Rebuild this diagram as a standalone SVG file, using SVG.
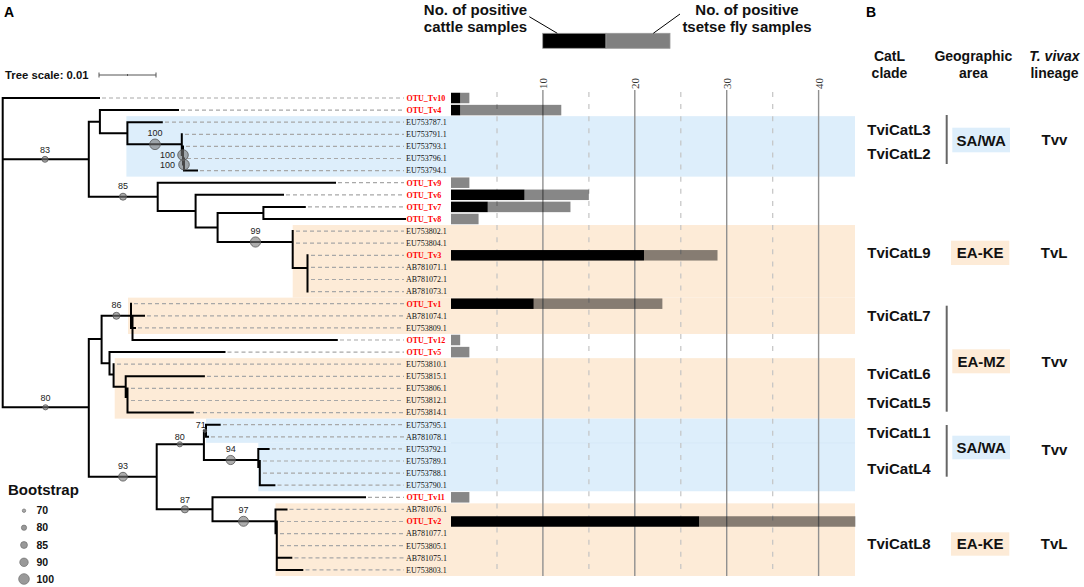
<svg xmlns="http://www.w3.org/2000/svg" width="1084" height="587" viewBox="0 0 1084 587">
<style>
.sans{font-family:"Liberation Sans",Arial,sans-serif}
.serif{font-family:"Liberation Serif","Times New Roman",serif}
.br{stroke:#000;stroke-width:2;fill:none;stroke-linecap:square}
.ld{stroke:#a8a8a8;stroke-width:1.2;stroke-dasharray:4 3;fill:none}
.lbl{font-family:"Liberation Serif","Times New Roman",serif;font-size:8px;fill:#111}
.otu{font-family:"Liberation Serif","Times New Roman",serif;font-size:8px;fill:#ff0000;font-weight:bold}
.bc{fill:#777;fill-opacity:0.6;stroke:#555;stroke-width:0.8}
.bt{font-family:"Liberation Sans",Arial,sans-serif;font-size:9px;fill:#222;text-anchor:middle}
.blue{fill:#ddeefb}
.peach{fill:#fdebd7}
.gs{stroke:#909090;stroke-width:1.4}
.gd{stroke:#c4c4c4;stroke-width:1.2;stroke-dasharray:5 7.1}
.cat{fill:#000}
.tse{fill:#000;fill-opacity:0.47}
.ax{font-family:"Liberation Serif","Times New Roman",serif;font-size:11px;fill:#333;text-anchor:middle}
.bh{font-family:"Liberation Sans",Arial,sans-serif;font-size:14px;font-weight:bold;fill:#111;text-anchor:middle}
.bl{font-family:"Liberation Sans",Arial,sans-serif;font-size:15px;font-weight:bold;fill:#111}
.bm{font-family:"Liberation Sans",Arial,sans-serif;font-size:15px;font-weight:bold;fill:#111;text-anchor:middle}
.vb{stroke:#666;stroke-width:2}
</style>

<!-- panel labels -->
<text class="sans" x="4" y="17" font-size="14" font-weight="bold">A</text>
<text class="sans" x="866" y="17" font-size="14" font-weight="bold">B</text>

<!-- tree scale -->
<g id="tree-scale">
<text class="sans" x="5" y="79" font-size="11.3" font-weight="bold" fill="#111">Tree scale: 0.01</text>
<path d="M99,75 H156 M99,72.5 V77.5 M156,72.5 V77.5 M127.5,74 V76" stroke="#555" stroke-width="1" fill="none"/>
</g>

<!-- bar legend -->
<g id="bar-legend">
<text class="sans" x="475.5" y="14.5" font-size="15" font-weight="bold" text-anchor="middle" fill="#111">No. of positive</text>
<text class="sans" x="475.5" y="31.5" font-size="15" font-weight="bold" text-anchor="middle" fill="#111">cattle samples</text>
<text class="sans" x="747" y="14.5" font-size="15" font-weight="bold" text-anchor="middle" fill="#111">No. of positive</text>
<text class="sans" x="747" y="31.5" font-size="15" font-weight="bold" text-anchor="middle" fill="#111">tsetse fly samples</text>
<rect x="542.7" y="33.3" width="63.3" height="15" fill="#000" stroke="#999" stroke-width="0.8"/>
<rect x="606" y="33.3" width="64" height="15" fill="#808080" stroke="#999" stroke-width="0.8"/>
<path d="M529.3,16.7 L557.3,33.3 M680,14 L653.3,33.3" stroke="#000" stroke-width="1" fill="none"/>
</g>

<!-- background bands -->
<g id="bands">
<rect class="blue" x="126.4" y="116.15" width="728.6" height="60.5"/>
<rect class="peach" x="292.7" y="225.05" width="562.3" height="72.6"/>
<rect class="peach" x="128" y="297.65" width="727" height="36.3"/>
<rect class="peach" x="114.7" y="358.15" width="740.3" height="60.5"/>
<rect class="blue" x="206" y="418.65" width="649" height="24.2"/>
<rect class="blue" x="258.3" y="442.85" width="596.7" height="48.4"/>
<line x1="451" y1="442.85" x2="855" y2="442.85" stroke="#cfe3f3" stroke-width="0.6"/>
<rect class="peach" x="275.5" y="503.35" width="579.5" height="72.6"/>
</g>

<!-- axis grid -->
<g id="axis">
<line class="gd" x1="497" y1="92" x2="497" y2="576"/>
<line class="gd" x1="588.9" y1="92" x2="588.9" y2="576"/>
<line class="gd" x1="680.8" y1="92" x2="680.8" y2="576"/>
<line class="gd" x1="772.7" y1="92" x2="772.7" y2="576"/>
<line class="gs" x1="542.9" y1="90" x2="542.9" y2="576"/>
<line class="gs" x1="634.8" y1="90" x2="634.8" y2="576"/>
<line class="gs" x1="726.7" y1="90" x2="726.7" y2="576"/>
<line class="gs" x1="818.6" y1="90" x2="818.6" y2="576"/>
<text class="ax" transform="translate(546.8,83.5) rotate(-90)">10</text>
<text class="ax" transform="translate(638.7,83.5) rotate(-90)">20</text>
<text class="ax" transform="translate(730.6,83.5) rotate(-90)">30</text>
<text class="ax" transform="translate(822.5,83.5) rotate(-90)">40</text>
</g>

<!-- connectors: tree branches and leader lines -->
<g id="connectors">
<path class="ld" d="M102,98H404 M181,110.1H404 M165,122.2H404 M185,134.3H404 M186,146.4H404 M187,158.5H404 M200,170.6H404 M338,182.7H404 M286,194.8H404 M308,206.9H404 M296,231.1H404 M296,243.2H404 M311,255.3H404 M311,267.4H404 M311,279.5H404 M311,291.6H404 M134,303.7H404 M147,315.8H404 M138,327.9H404 M340,340H404 M227.5,352.1H404 M117,364.2H404 M207,376.3H404 M131,388.4H404 M131,400.5H404 M196,412.6H404 M223,424.7H404 M211,436.8H404 M272,448.9H404 M263,461H404 M263,473.1H404 M277.5,485.2H404 M368,497.3H404 M289.5,509.4H404 M280,521.5H404 M280,533.6H404 M280,545.7H404 M294.5,557.8H404 M305.5,569.9H404"/>
<path class="br" d="
M2.7,98 V407.3 M2.7,98 H99 M2.7,159.3 H88.8 M2.7,407.3 H88.8
M88.8,121.7 V196.7 M88.8,121.7 H99.9 M88.8,196.7 H157.7
M99.9,110.1 V133.3 M99.9,110.1 H178 M99.9,133.3 H127.4
M127.4,122.2 V144.3 M127.4,122.2 H161.8 M127.4,144.3 H181.8
M181.8,134.3 V155 M181.8,155 H183
M183,146.4 V164.6 M183,164.6 H184
M184,158.5 V170.6 M184,170.6 H197
M157.7,182.7 V211 M157.7,182.7 H335 M157.7,211 H195.6
M195.6,194.8 V227.5 M195.6,194.8 H283 M195.6,227.5 H217.6
M217.6,213 V242 M217.6,213 H263.4 M217.6,242 H292.7
M263.4,206.9 V219 M263.4,206.9 H304.8 M263.4,219 H405
M292.7,231.1 V268 M292.7,268 H307.5
M307.5,255.3 V291.6
M88.8,339 V476.7 M88.8,339 H101.6 M88.8,476.7 H156.7
M101.6,315.8 V363.3 M101.6,315.8 H131 M101.6,363.3 H109.5
M131,303.7 V327.9 M131,327.9 H132.5
M132.5,315.8 V340 M132.5,315.8 H144 M132.5,327.9 H135 M132.5,340 H336.8
M109.5,352.1 V374.5 M109.5,352.1 H224.5 M109.5,374.5 H113.6
M113.6,364.2 V386.7 M113.6,386.7 H125.7
M125.7,376.3 V397 M125.7,376.3 H203.9 M125.7,397 H127.5
M127.5,388.4 V412.6 M127.5,412.6 H192.8
M156.7,444.3 V509.3 M156.7,444.3 H203.9 M156.7,509.3 H212.5
M203.9,430.7 V460 M203.9,430.7 H206 M203.9,460 H258.3
M206,424.7 V436.8 M206,424.7 H219.7 M206,436.8 H208
M258.3,448.9 V467 M258.3,448.9 H268.6 M258.3,467 H259.8
M259.8,461 V485.2 M259.8,485.2 H274.4
M212.5,497.3 V521.3 M212.5,497.3 H365 M212.5,521.3 H275.5
M275.5,509.4 V533.2 M275.5,509.4 H286.5 M275.5,533.2 H276.8
M276.8,521.5 V569.9 M276.8,557.8 H291.3 M276.8,569.9 H302.3"/>
</g>

<!-- bootstrap support -->
<g id="bootstrap">
<circle class="bc" cx="45" cy="159.3" r="3"/><text class="bt" x="45" y="153.2">83</text>
<circle class="bc" cx="155" cy="144.3" r="5.3"/><text class="bt" x="155" y="136.4">100</text>
<circle class="bc" cx="183" cy="155" r="5.3"/><text class="bt" x="167.5" y="158.2">100</text>
<circle class="bc" cx="184" cy="164.6" r="5.3"/><text class="bt" x="167.5" y="167.8">100</text>
<circle class="bc" cx="123" cy="196.7" r="3.5"/><text class="bt" x="123" y="189.2">85</text>
<circle class="bc" cx="255.5" cy="242" r="5.1"/><text class="bt" x="255.5" y="234.2">99</text>
<circle class="bc" cx="45.5" cy="407.3" r="2.6"/><text class="bt" x="45.5" y="401.2">80</text>
<circle class="bc" cx="116.4" cy="315.8" r="3.5"/><text class="bt" x="116.4" y="307.9">86</text>
<circle class="bc" cx="205" cy="430.7" r="1.7"/><text class="bt" x="200.8" y="427.5">71</text>
<circle class="bc" cx="179.8" cy="444.3" r="2.6"/><text class="bt" x="179.8" y="439.5">80</text>
<circle class="bc" cx="230.7" cy="460" r="4.6"/><text class="bt" x="230.7" y="451.5">94</text>
<circle class="bc" cx="123" cy="476.7" r="4.4"/><text class="bt" x="123" y="469">93</text>
<circle class="bc" cx="184.9" cy="509.3" r="3.6"/><text class="bt" x="184.9" y="503.2">87</text>
<circle class="bc" cx="243.5" cy="521.3" r="5"/><text class="bt" x="243.5" y="513.2">97</text>
</g>

<!-- leaves -->
<g id="leaf-OTU_Tv10"><text class="otu" x="406.5" y="100.8">OTU_Tv10</text><rect class="cat" x="451" y="92.75" width="9.19" height="10.5"/><rect class="tse" x="460.19" y="92.75" width="9.19" height="10.5"/></g>
<g id="leaf-OTU_Tv4"><text class="otu" x="406.5" y="112.9">OTU_Tv4</text><rect class="cat" x="451" y="104.85" width="9.19" height="10.5"/><rect class="tse" x="460.19" y="104.85" width="101.09" height="10.5"/></g>
<g id="leaf-EU753787"><text class="lbl" x="406" y="125">EU753787.1</text></g>
<g id="leaf-EU753791"><text class="lbl" x="406" y="137.1">EU753791.1</text></g>
<g id="leaf-EU753793"><text class="lbl" x="406" y="149.2">EU753793.1</text></g>
<g id="leaf-EU753796"><text class="lbl" x="406" y="161.3">EU753796.1</text></g>
<g id="leaf-EU753794"><text class="lbl" x="406" y="173.4">EU753794.1</text></g>
<g id="leaf-OTU_Tv9"><text class="otu" x="406.5" y="185.5">OTU_Tv9</text><rect class="tse" x="451" y="177.45" width="18.38" height="10.5"/></g>
<g id="leaf-OTU_Tv6"><text class="otu" x="406.5" y="197.6">OTU_Tv6</text><rect class="cat" x="451" y="189.55" width="73.52" height="10.5"/><rect class="tse" x="524.52" y="189.55" width="64.33" height="10.5"/></g>
<g id="leaf-OTU_Tv7"><text class="otu" x="406.5" y="209.7">OTU_Tv7</text><rect class="cat" x="451" y="201.65" width="36.76" height="10.5"/><rect class="tse" x="487.76" y="201.65" width="82.71" height="10.5"/></g>
<g id="leaf-OTU_Tv8"><text class="otu" x="406.5" y="221.8">OTU_Tv8</text><rect class="tse" x="451" y="213.75" width="27.57" height="10.5"/></g>
<g id="leaf-EU753802"><text class="lbl" x="406" y="233.9">EU753802.1</text></g>
<g id="leaf-EU753804"><text class="lbl" x="406" y="246">EU753804.1</text></g>
<g id="leaf-OTU_Tv3"><text class="otu" x="406.5" y="258.1">OTU_Tv3</text><rect class="cat" x="451" y="250.05" width="192.99" height="10.5"/><rect class="tse" x="643.99" y="250.05" width="73.52" height="10.5"/></g>
<g id="leaf-AB781071"><text class="lbl" x="406" y="270.2">AB781071.1</text></g>
<g id="leaf-AB781072"><text class="lbl" x="406" y="282.3">AB781072.1</text></g>
<g id="leaf-AB781073"><text class="lbl" x="406" y="294.4">AB781073.1</text></g>
<g id="leaf-OTU_Tv1"><text class="otu" x="406.5" y="306.5">OTU_Tv1</text><rect class="cat" x="451" y="298.45" width="82.71" height="10.5"/><rect class="tse" x="533.71" y="298.45" width="128.66" height="10.5"/></g>
<g id="leaf-AB781074"><text class="lbl" x="406" y="318.6">AB781074.1</text></g>
<g id="leaf-EU753809"><text class="lbl" x="406" y="330.7">EU753809.1</text></g>
<g id="leaf-OTU_Tv12"><text class="otu" x="406.5" y="342.8">OTU_Tv12</text><rect class="tse" x="451" y="334.75" width="9.19" height="10.5"/></g>
<g id="leaf-OTU_Tv5"><text class="otu" x="406.5" y="354.9">OTU_Tv5</text><rect class="tse" x="451" y="346.85" width="18.38" height="10.5"/></g>
<g id="leaf-EU753810"><text class="lbl" x="406" y="367">EU753810.1</text></g>
<g id="leaf-EU753815"><text class="lbl" x="406" y="379.1">EU753815.1</text></g>
<g id="leaf-EU753806"><text class="lbl" x="406" y="391.2">EU753806.1</text></g>
<g id="leaf-EU753812"><text class="lbl" x="406" y="403.3">EU753812.1</text></g>
<g id="leaf-EU753814"><text class="lbl" x="406" y="415.4">EU753814.1</text></g>
<g id="leaf-EU753795"><text class="lbl" x="406" y="427.5">EU753795.1</text></g>
<g id="leaf-AB781078"><text class="lbl" x="406" y="439.6">AB781078.1</text></g>
<g id="leaf-EU753792"><text class="lbl" x="406" y="451.7">EU753792.1</text></g>
<g id="leaf-EU753789"><text class="lbl" x="406" y="463.8">EU753789.1</text></g>
<g id="leaf-EU753788"><text class="lbl" x="406" y="475.9">EU753788.1</text></g>
<g id="leaf-EU753790"><text class="lbl" x="406" y="488">EU753790.1</text></g>
<g id="leaf-OTU_Tv11"><text class="otu" x="406.5" y="500.1">OTU_Tv11</text><rect class="tse" x="451" y="492.05" width="18.38" height="10.5"/></g>
<g id="leaf-AB781076"><text class="lbl" x="406" y="512.2">AB781076.1</text></g>
<g id="leaf-OTU_Tv2"><text class="otu" x="406.5" y="524.3">OTU_Tv2</text><rect class="cat" x="451" y="516.25" width="248.13" height="10.5"/><rect class="tse" x="699.13" y="516.25" width="156.23" height="10.5"/></g>
<g id="leaf-AB781077"><text class="lbl" x="406" y="536.4">AB781077.1</text></g>
<g id="leaf-EU753805"><text class="lbl" x="406" y="548.5">EU753805.1</text></g>
<g id="leaf-AB781075"><text class="lbl" x="406" y="560.6">AB781075.1</text></g>
<g id="leaf-EU753803"><text class="lbl" x="406" y="572.7">EU753803.1</text></g>

<!-- bootstrap legend -->
<g id="bootstrap-legend">
<text class="sans" x="8" y="494.5" font-size="15" font-weight="bold" fill="#111">Bootstrap</text>
<circle cx="24" cy="510.7" r="1.7" fill="#aaa" stroke="#777" stroke-width="0.8"/>
<circle cx="24" cy="527.7" r="2.6" fill="#999" stroke="#777" stroke-width="0.8"/>
<circle cx="24" cy="545" r="3.4" fill="#999" stroke="#777" stroke-width="0.8"/>
<circle cx="24" cy="562.3" r="4.2" fill="#999" stroke="#777" stroke-width="0.8"/>
<circle cx="24" cy="579" r="5.3" fill="#999" stroke="#777" stroke-width="0.8"/>
<text class="sans" x="36.5" y="514.3" font-size="10.5" font-weight="bold" fill="#111">70</text>
<text class="sans" x="36.5" y="531.3" font-size="10.5" font-weight="bold" fill="#111">80</text>
<text class="sans" x="36.5" y="548.6" font-size="10.5" font-weight="bold" fill="#111">85</text>
<text class="sans" x="36.5" y="565.9" font-size="10.5" font-weight="bold" fill="#111">90</text>
<text class="sans" x="36.5" y="582.6" font-size="10.5" font-weight="bold" fill="#111">100</text>
</g>

<!-- panel B -->
<g id="panelB-header">
<text class="bh" x="889.5" y="61">CatL</text>
<text class="bh" x="889.5" y="77.5">clade</text>
<text class="bh" x="973.3" y="61">Geographic</text>
<text class="bh" x="973.3" y="77.5">area</text>
<text class="bh" x="1054.5" y="61" font-style="italic">T. vivax</text>
<text class="bh" x="1054.5" y="77.5">lineage</text>
</g>
<g id="group-SAWA-1">
<text class="bl" x="867.3" y="135.3">TviCatL3</text>
<text class="bl" x="867.3" y="159.3">TviCatL2</text>
<line class="vb" x1="946.7" y1="115" x2="946.7" y2="164"/>
<rect class="blue" x="952.3" y="127.7" width="57.7" height="24.6"/>
<text class="bm" x="981.2" y="145.5">SA/WA</text>
<text class="bm" x="1054.5" y="145.3">Tvv</text>
</g>
<g id="group-EAKE-1">
<text class="bl" x="867.3" y="258">TviCatL9</text>
<rect class="peach" x="951" y="240.7" width="58.3" height="24.3"/>
<text class="bm" x="980.2" y="258.2">EA-KE</text>
<text class="bm" x="1054.2" y="258">TvL</text>
</g>
<g id="group-EAMZ">
<text class="bl" x="867.3" y="321.3">TviCatL7</text>
<text class="bl" x="867.3" y="378.8">TviCatL6</text>
<text class="bl" x="867.3" y="408.2">TviCatL5</text>
<line class="vb" x1="946.7" y1="305.7" x2="946.7" y2="411.7"/>
<rect class="peach" x="952.3" y="349.3" width="57.7" height="24"/>
<text class="bm" x="981.2" y="366.8">EA-MZ</text>
<text class="bm" x="1054.5" y="367">Tvv</text>
</g>
<g id="group-SAWA-2">
<text class="bl" x="867.3" y="438">TviCatL1</text>
<text class="bl" x="867.3" y="473.6">TviCatL4</text>
<line class="vb" x1="946.7" y1="425" x2="946.7" y2="476.7"/>
<rect class="blue" x="952.3" y="435.7" width="57.7" height="23.6"/>
<text class="bm" x="981.2" y="452.8">SA/WA</text>
<text class="bm" x="1054.5" y="455">Tvv</text>
</g>
<g id="group-EAKE-2">
<text class="bl" x="867.3" y="548.6">TviCatL8</text>
<rect class="peach" x="951" y="532.3" width="58.3" height="23.4"/>
<text class="bm" x="980.2" y="549.3">EA-KE</text>
<text class="bm" x="1054.2" y="548.6">TvL</text>
</g>
</svg>
